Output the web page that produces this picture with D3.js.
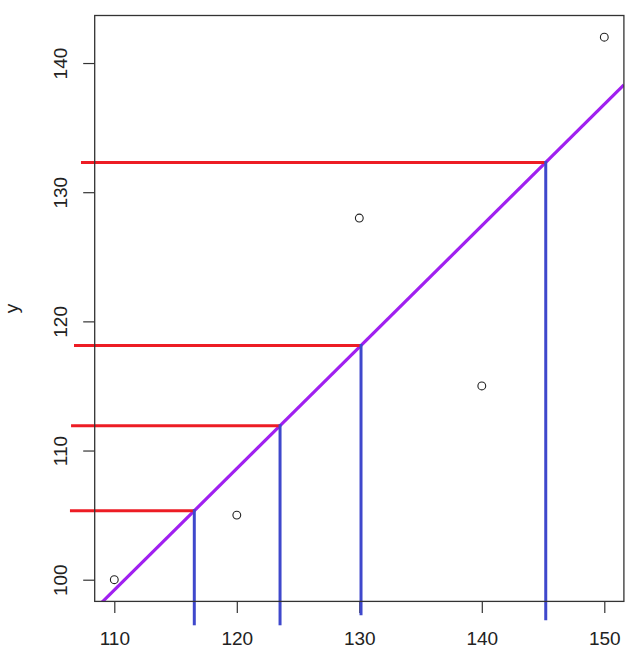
<!DOCTYPE html>
<html><head><meta charset="utf-8">
<script src="https://cdn.jsdelivr.net/npm/d3@7"></script>
<style>body{margin:0;background:#fff}svg{display:block}</style>
</head><body>
<script>
// data points
const xs = [110, 120, 130, 140, 150];
const ys = [100, 105, 128, 115, 142];
// tick labels
const xTicks = [110, 120, 130, 140, 150];
const yTicks = [100, 110, 120, 130, 140];
// predicted x positions marked on the fitted line
const predX = [116.53, 123.53, 130.14, 145.22];
// where each red guide starts (x, data units) and each blue guide ends (y, data units)
const redStartX = [106.38, 106.47, 106.71, 107.28];
const blueEndY = [96.47, 96.47, 97.24, 96.86];

const W = 636, H = 655;
const svg = d3.select("body").append("svg").attr("width", W).attr("height", H);

const pad = v => { const [a,b]=d3.extent(v); const d=(b-a)*0.04; return [a-d,b+d]; };
const x = d3.scaleLinear().domain(pad(xs)).range([94.7, 623.9]);
const y = d3.scaleLinear().domain(pad(ys)).range([601.4, 15.5]);

// least squares fit
const mx = d3.mean(xs), my = d3.mean(ys);
const slope = d3.sum(xs.map((v,i)=>(v-mx)*(ys[i]-my))) / d3.sum(xs.map(v=>(v-mx)**2));
const icpt = my - slope*mx;
const fit = v => icpt + slope*v;

const [x0,x1] = x.range(), [yb,yt] = y.range();
svg.append("clipPath").attr("id","plot").append("rect")
  .attr("x",x0).attr("y",yt).attr("width",x1-x0).attr("height",yb-yt);

const font = "'Liberation Sans', Arial, sans-serif";

// axes
const xAxis = svg.append("g").attr("transform",`translate(0,${yb})`)
  .call(d3.axisBottom(x).tickValues(xTicks).tickSize(11.5).tickPadding(15).tickFormat(d3.format("d")));
const yAxis = svg.append("g").attr("transform",`translate(${x0},0)`)
  .call(d3.axisLeft(y).tickValues(yTicks).tickSize(11.5).tickPadding(0).tickFormat(d3.format("d")));
[xAxis,yAxis].forEach(g=>{
  g.select(".domain").remove();
  g.selectAll("line").attr("stroke","#333").attr("stroke-width",1.2);
  g.selectAll("text").attr("font-family",font).attr("font-size",19).attr("fill","#222");
});
xAxis.selectAll("text").attr("dy",null).attr("y",43.5);
yAxis.selectAll("text").attr("x",null).attr("dy",null)
  .attr("text-anchor","middle").attr("transform","translate(-27.5,0) rotate(-90)").attr("y",0);

// y label
svg.append("text").attr("transform",`translate(18,${(yb+yt)/2}) rotate(-90)`)
  .attr("text-anchor","middle").attr("font-family",font).attr("font-size",19).attr("fill","#222").text("y");

// fitted line
svg.append("line").attr("clip-path","url(#plot)")
  .attr("x1",x(x.domain()[0])).attr("y1",y(fit(x.domain()[0])))
  .attr("x2",x(x.domain()[1])).attr("y2",y(fit(x.domain()[1])))
  .attr("stroke","#a020f0").attr("stroke-width",3.2);

// points
svg.selectAll("circle.pt").data(xs).join("circle").attr("class","pt")
  .attr("cx",d=>x(d)).attr("cy",(d,i)=>y(ys[i])).attr("r",3.9)
  .attr("fill","none").attr("stroke","#222").attr("stroke-width",1.1);

// red horizontal guides
svg.selectAll("line.red").data(predX).join("line").attr("class","red")
  .attr("x1",(d,i)=>x(redStartX[i])).attr("x2",d=>x(d))
  .attr("y1",d=>y(fit(d))).attr("y2",d=>y(fit(d)))
  .attr("stroke","#ed1c24").attr("stroke-width",3);

// blue vertical guides
svg.selectAll("line.blue").data(predX).join("line").attr("class","blue")
  .attr("x1",d=>x(d)).attr("x2",d=>x(d))
  .attr("y1",d=>y(fit(d))-1.5).attr("y2",(d,i)=>y(blueEndY[i]))
  .attr("stroke","#3f48cc").attr("stroke-width",3);

// box
svg.append("rect").attr("x",x0).attr("y",yt).attr("width",x1-x0).attr("height",yb-yt)
  .attr("fill","none").attr("stroke","#333").attr("stroke-width",1.3);
</script>
</body></html>
